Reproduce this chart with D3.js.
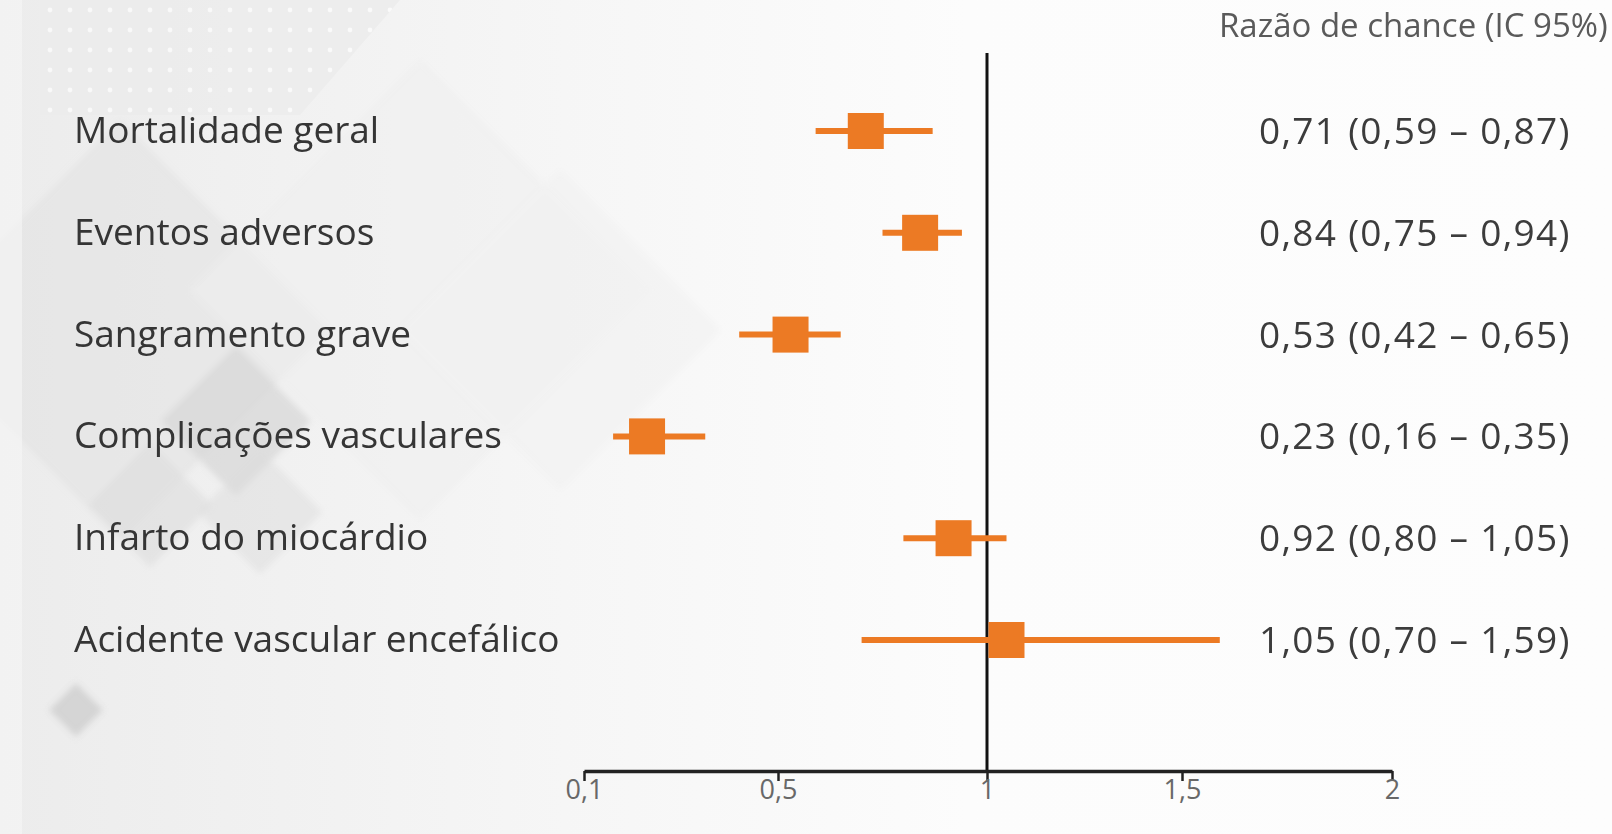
<!DOCTYPE html>
<html lang="pt">
<head>
<meta charset="utf-8">
<script src="https://cdn.jsdelivr.net/npm/d3@7"></script>
<style>
  html, body { margin: 0; padding: 0; background: #fbfbfb; }
  svg { display: block; }
  text { font-family: "Open Sans", Lato, sans-serif; }
</style>
</head>
<body>
<svg id="chart" width="1612" height="834"></svg>
<script>
// Desfechos e razões de chance (IC 95%)
const outcomes = [
  "Mortalidade geral",
  "Eventos adversos",
  "Sangramento grave",
  "Complicações vasculares",
  "Infarto do miocárdio",
  "Acidente vascular encefálico"
];
const oddsRatio = [0.71, 0.84, 0.53, 0.23, 0.92, 1.05];
const ciLower   = [0.59, 0.75, 0.42, 0.16, 0.80, 0.70];
const ciUpper   = [0.87, 0.94, 0.65, 0.35, 1.05, 1.59];
const tickValues = [0.1, 0.5, 1, 1.5, 2];
const headerText = "Razão de chance (IC 95%)";

const fmt = v => v.toFixed(2).replace(".", ",");
const tickFmt = v => String(v).replace(".", ",");

const svg = d3.select("#chart");
const W = 1612, H = 834;

// ---- background decoration ----
const defs = svg.append("defs");
const grad = defs.append("linearGradient").attr("id", "bgGrad")
  .attr("x1", "0").attr("x2", "1").attr("y1", "0").attr("y2", "0");
grad.append("stop").attr("offset", "0").attr("stop-color", "#ececec");
grad.append("stop").attr("offset", "0.35").attr("stop-color", "#f6f6f6");
grad.append("stop").attr("offset", "0.6").attr("stop-color", "#fcfcfc");
grad.append("stop").attr("offset", "1").attr("stop-color", "#fdfdfd");
svg.append("rect").attr("width", W).attr("height", H).attr("fill", "url(#bgGrad)");

const blur = defs.append("filter").attr("id", "soft");
blur.append("feGaussianBlur").attr("stdDeviation", 3);

// dotted panel, top left
const dots = defs.append("pattern").attr("id", "dots")
  .attr("width", 20).attr("height", 20).attr("patternUnits", "userSpaceOnUse");
dots.append("rect").attr("width", 20).attr("height", 20).attr("fill", "#ececec");
dots.append("circle").attr("cx", 10).attr("cy", 10).attr("r", 2.4).attr("fill", "#fbfbfb");
svg.append("path")
  .attr("d", "M40,0 L400,0 L300,115 L40,115 Z")
  .attr("fill", "url(#dots)").attr("opacity", 0.85);

const deco = svg.append("g").attr("filter", "url(#soft)");
const diamond = (cx, cy, r) => `M${cx},${cy - r} L${cx + r},${cy} L${cx},${cy + r} L${cx - r},${cy} Z`;
const shapes = [
  [120, 330, 210, "#e4e4e4", 0.65],
  [420, 290, 230, "#eeeeee", 0.55],
  [560, 330, 160, "#f1f1f1", 0.55],
  [236, 421, 75, "#d6d6d6", 0.7],
  [150, 505, 62, "#dadada", 0.55],
  [260, 512, 62, "#dedede", 0.55],
  [76, 710, 27, "#d2d2d2", 0.9]
];
shapes.forEach(([cx, cy, r, c, o]) =>
  deco.append("path").attr("d", diamond(cx, cy, r)).attr("fill", c).attr("opacity", o));
svg.append("rect").attr("x", 0).attr("y", 0).attr("width", 22).attr("height", H)
  .attr("fill", "#f7f7f7").attr("opacity", 0.6);

// ---- scales ----
// the printed axis spaces its ticks evenly, so the scale is piecewise linear
const x = d3.scaleLinear()
  .domain(tickValues)
  .range([584, 778, 987, 1182, 1392]);

const y = d3.scalePoint()
  .domain(outcomes)
  .range([131, 640]);

const orange = "#ec7a24";

// ---- reference line at OR = 1 ----
svg.append("line")
  .attr("x1", x(1)).attr("x2", x(1))
  .attr("y1", 53).attr("y2", 771)
  .attr("stroke", "#111").attr("stroke-width", 3);

// ---- axis ----
const axis = d3.axisBottom(x)
  .tickValues(tickValues)
  .tickFormat(tickFmt)
  .tickSize(10)
  .tickSizeOuter(0)
  .tickPadding(2);
const gAxis = svg.append("g").attr("transform", "translate(0,771)").call(axis);
gAxis.select(".domain").attr("stroke", "#222").attr("stroke-width", 3.5);
gAxis.selectAll(".tick line").attr("stroke", "#222").attr("stroke-width", 2.5);
gAxis.selectAll(".tick text")
  .attr("fill", "#686868")
  .style("font-size", "27px")
  .attr("dy", "0.6em");

// ---- outcome labels ----
svg.append("g").selectAll("text").data(outcomes).join("text")
  .attr("x", 74)
  .attr("y", d => y(d) + 12)
  .attr("fill", "#353535")
  .style("font-size", "37px")
  .text(d => d);

// ---- confidence intervals and point estimates ----
const rows = outcomes.map((o, i) => ({ o, or: oddsRatio[i], lo: ciLower[i], hi: ciUpper[i] }));
const marks = svg.append("g");
marks.selectAll("line").data(rows).join("line")
  .attr("x1", d => x(d.lo)).attr("x2", d => x(d.hi))
  .attr("y1", d => y(d.o)).attr("y2", d => y(d.o))
  .attr("stroke", orange).attr("stroke-width", 6);
const sq = 36;
marks.selectAll("rect").data(rows).join("rect")
  .attr("x", d => x(d.or) - sq / 2)
  .attr("y", d => y(d.o) - sq / 2)
  .attr("width", sq).attr("height", sq)
  .attr("fill", orange);

// ---- values column ----
svg.append("g").selectAll("text").data(rows).join("text")
  .attr("x", 1259)
  .attr("y", d => y(d.o) + 13)
  .attr("fill", "#3c3c3c")
  .style("font-size", "37px")
  .style("letter-spacing", "1.3px")
  .text(d => `${fmt(d.or)} (${fmt(d.lo)} – ${fmt(d.hi)})`);

svg.append("text")
  .attr("x", 1219).attr("y", 37)
  .attr("fill", "#5a5a5a")
  .style("font-size", "33px")
  .text(headerText);
</script>
</body>
</html>
